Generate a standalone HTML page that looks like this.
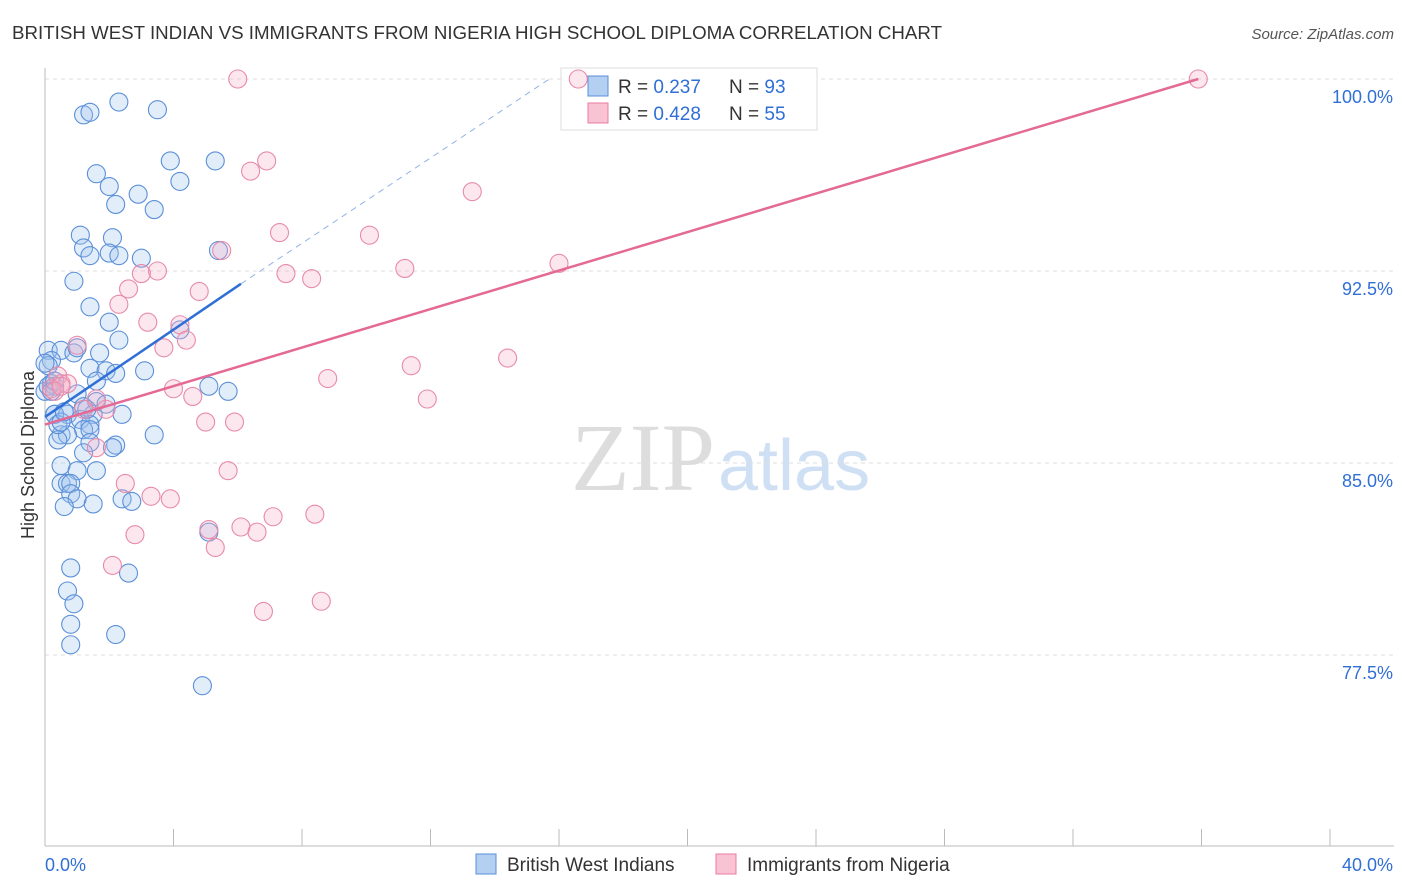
<!DOCTYPE html>
<html><head><meta charset="utf-8"><style>
body{margin:0;background:#fff;font-family:"Liberation Sans",sans-serif}
svg{display:block}
</style></head><body>
<svg id="chart" width="1406" height="892">
<text x="12" y="39" font-size="18" fill="#333" textLength="930" lengthAdjust="spacingAndGlyphs">BRITISH WEST INDIAN VS IMMIGRANTS FROM NIGERIA HIGH SCHOOL DIPLOMA CORRELATION CHART</text>
<text x="1394" y="39" font-size="15" fill="#555" font-style="italic" text-anchor="end">Source: ZipAtlas.com</text>
<text x="715" y="490" font-size="96" fill="#ddd" text-anchor="end" font-family="Liberation Serif">ZIP</text>
<text x="718" y="490" font-size="72" fill="#cfe0f4">atlas</text>
<g id="grid"></g>
<g id="axes"></g>
<g>
<rect x="561" y="68" width="256" height="62" fill="#fff" stroke="#ddd"/>
<rect x="588" y="76" width="20" height="20" fill="#b3cff2" stroke="#5b8fd8"/>
<rect x="588" y="103" width="20" height="20" fill="#f8c3d3" stroke="#e87ea0"/>
<text x="618" y="93" font-size="19" fill="#333">R = <tspan fill="#2f6fd6">0.237</tspan></text>
<text x="729" y="93" font-size="19" fill="#333">N = <tspan fill="#2f6fd6">93</tspan></text>
<text x="618" y="120" font-size="19" fill="#333">R = <tspan fill="#2f6fd6">0.428</tspan></text>
<text x="729" y="120" font-size="19" fill="#333">N = <tspan fill="#2f6fd6">55</tspan></text>
</g>
<g id="pts"></g>
<g id="lines"></g>
<text transform="translate(34,455) rotate(-90)" font-size="18" fill="#333" text-anchor="middle">High School Diploma</text>
<g>
<rect x="476" y="854" width="20" height="20" fill="#b3cff2" stroke="#5b8fd8"/>
<text x="507" y="871" font-size="19" fill="#333">British West Indians</text>
<rect x="716" y="854" width="20" height="20" fill="#f8c3d3" stroke="#e87ea0"/>
<text x="747" y="871" font-size="19" fill="#333">Immigrants from Nigeria</text>
</g>
</svg>
<script>
const yTicks=[100,92.5,85,77.5];
const yTickLabels=["100.0%","92.5%","85.0%","77.5%"];
const blueX=[2.3,1.2,1.4,3.5,1.6,3.9,5.3,2.0,4.2,2.9,2.2,3.4,1.1,2.1,1.2,1.4,2.0,2.3,3.0,5.4,0.9,1.4,2.0,4.2,2.3,0.1,0.5,0.9,1.0,1.7,0.2,0.1,1.4,1.9,2.2,3.1,1.6,0.2,0.3,5.1,5.7,1.0,1.6,1.2,0.3,0.7,2.4,1.1,1.5,1.4,1.2,1.4,0.5,0.7,1.4,2.2,2.1,0.4,3.4,1.2,0.5,1.0,1.6,0.5,0.7,0.8,0.8,1.0,2.4,2.7,0.6,1.5,5.1,0.8,0.7,2.6,0.9,0.8,0.8,2.2,4.9,0.3,0.0,0.1,0.0,0.4,0.5,0.2,0.6,1.3,1.9,0.3];
const blueY=[99.1,98.6,98.7,98.8,96.3,96.8,96.8,95.8,96.0,95.5,95.1,94.9,93.9,93.8,93.4,93.1,93.2,93.1,93.0,93.3,92.1,91.1,90.5,90.2,89.8,89.4,89.4,89.3,89.5,89.3,89.0,88.8,88.7,88.6,88.5,88.6,88.2,88.1,88.0,88.0,87.8,87.7,87.4,87.2,86.9,86.9,86.9,86.7,86.9,86.5,86.3,86.3,86.1,86.1,85.8,85.7,85.6,85.9,86.1,85.4,84.9,84.7,84.7,84.2,84.2,84.2,83.8,83.6,83.6,83.5,83.3,83.4,82.3,80.9,80.0,80.7,79.5,78.7,77.9,78.3,76.3,86.9,87.8,88.0,88.9,86.5,86.6,87.8,87.0,87.1,87.3,88.2];
const pinkX=[6.0,16.6,35.9,6.9,6.4,13.3,7.3,10.1,5.5,16.0,11.2,7.5,8.3,3.5,3.0,2.6,4.8,2.3,3.2,4.2,4.4,3.7,1.0,11.4,14.4,8.8,0.4,0.5,0.7,0.2,0.3,4.0,4.6,1.6,11.9,1.9,5.0,5.9,1.2,1.6,5.7,2.5,3.3,3.9,6.1,7.1,8.4,6.6,2.8,5.3,2.1,8.6,6.8,5.1,0.5];
const pinkY=[100,100,100,96.8,96.4,95.6,94.0,93.9,93.3,92.8,92.6,92.4,92.2,92.5,92.4,91.8,91.7,91.2,90.5,90.4,89.8,89.5,89.6,88.8,89.1,88.3,88.4,88.1,88.1,87.9,87.8,87.9,87.6,87.5,87.5,87.1,86.6,86.6,87.1,85.6,84.7,84.2,83.7,83.6,82.5,82.9,83.0,82.3,82.2,81.7,81.0,79.6,79.2,82.4,88.0];
const blueLine=[[0,86.8],[6.1,92.0]];
const blueDash=[[6.1,92.0],[15.7,100]];
const pinkLine=[[0,86.5],[35.9,100]];
const xTicks=[0,4,8,12,16,20,24,28,32,36,40];
const X=v=>45+v/40*1285, Y=v=>79+(100-v)/7.5*192;
const NS="http://www.w3.org/2000/svg";
function mk(t,a,p){const e=document.createElementNS(NS,t);for(const k in a)e.setAttribute(k,a[k]);p.appendChild(e);return e;}
const grid=document.getElementById('grid'),axes=document.getElementById('axes'),pts=document.getElementById('pts'),lines=document.getElementById('lines');
yTicks.forEach((t,i)=>{
 const l=mk('line',{x1:45,x2:1394,y1:Y(t),y2:Y(t),stroke:'#ddd','stroke-dasharray':'4,4'},grid);
 
 
 const tx=mk('text',{x:1393,y:Y(t)+24,'font-size':18,fill:'#2f6fd6','text-anchor':'end'},axes);
 tx.textContent=yTickLabels[i];
 
 
});
const ya=mk('line',{x1:45,x2:45,y1:68,y2:846,stroke:'#bbb'},axes);


const xa=mk('line',{x1:45,x2:1394,y1:846,y2:846,stroke:'#bbb'},axes);


xTicks.forEach(t=>{const l=mk('line',{x1:X(t),x2:X(t),y1:829,y2:846,stroke:'#bbb'},axes);
 
 });
[[0,'0.0%','start',45],[40,'40.0%','end',1393]].forEach(d=>{const t=mk('text',{x:d[3],y:871,'font-size':18,fill:'#2f6fd6','text-anchor':d[2]},axes);t.textContent=d[1];
 
 });
blueX.forEach((v,i)=>{const c=mk('circle',{cx:X(v),cy:Y(blueY[i]),r:9,fill:'rgba(160,195,240,0.3)',stroke:'#5b8fd8','stroke-width':1.1},pts);
 
 });
pinkX.forEach((v,i)=>{const c=mk('circle',{cx:X(v),cy:Y(pinkY[i]),r:9,fill:'rgba(244,175,200,0.3)',stroke:'#e88aaa','stroke-width':1.1},pts);
 
 });
const bl=mk('line',{x1:X(blueLine[0][0]),y1:Y(blueLine[0][1]),x2:X(blueLine[1][0]),y2:Y(blueLine[1][1]),stroke:'#2f6fd6','stroke-width':2.5},lines);


const bd=mk('line',{x1:X(blueDash[0][0]),y1:Y(blueDash[0][1]),x2:X(blueDash[1][0]),y2:Y(blueDash[1][1]),stroke:'#8fb3e6','stroke-width':1,'stroke-dasharray':'6,5'},lines);


const pl=mk('line',{x1:X(pinkLine[0][0]),y1:Y(pinkLine[0][1]),x2:X(pinkLine[1][0]),y2:Y(pinkLine[1][1]),stroke:'#e46a95','stroke-width':2.5},lines);


</script>
</body></html>
